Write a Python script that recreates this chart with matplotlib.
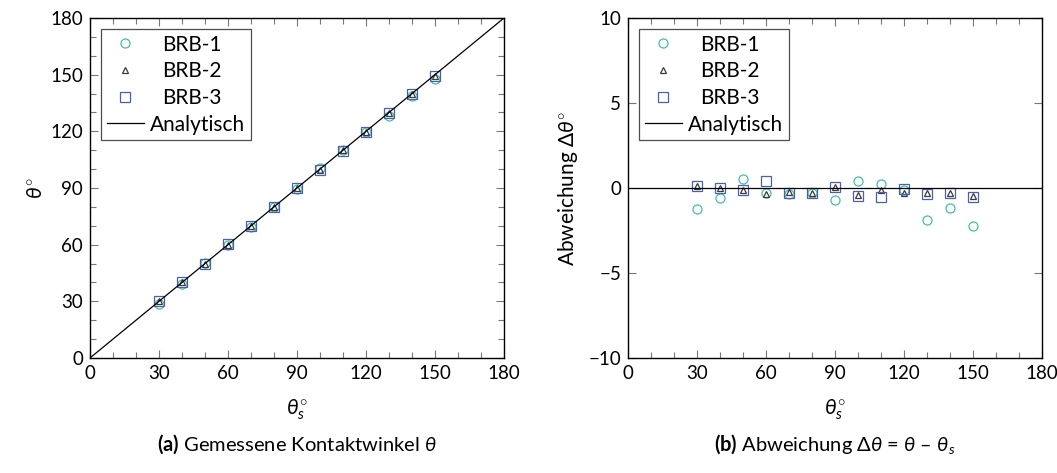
#!/usr/bin/env python

# Kontaktwinkel: gemessen vs. vorgegeben, und Abweichung

import numpy
import matplotlib
matplotlib.use('Agg')
import matplotlib.pyplot as plt
from matplotlib.ticker import MultipleLocator

plt.rcParams['font.family'] = ['Lato', 'DejaVu Sans']
plt.rcParams['mathtext.fontset'] = 'custom'
plt.rcParams['mathtext.rm'] = 'Lato'
plt.rcParams['mathtext.it'] = 'Lato:italic'
plt.rcParams['mathtext.bf'] = 'Lato:bold'

theta_s = [30, 40, 50, 60, 70, 80, 90, 100, 110, 120, 130, 140, 150]

# gemessene Winkel (a)
brb1 = [28.8, 39.4, 50.5, 59.7, 69.6, 79.7, 89.3, 100.4, 110.2, 119.9, 128.1, 138.8, 147.8]
brb2 = [30.1, 40.0, 49.9, 59.7, 69.8, 79.7, 90.1, 99.6, 109.9, 119.7, 129.7, 139.7, 149.5]
brb3 = [30.1, 40.0, 49.9, 60.4, 69.7, 79.7, 90.0, 99.5, 109.5, 119.9, 129.6, 139.7, 149.5]

# Abweichung (b)
d_brb1 = [-1.22, -0.59, 0.51, -0.27, -0.37, -0.30, -0.73, 0.43, 0.24, -0.10, -1.88, -1.18, -2.24]
d_brb2 = [0.12, 0.03, -0.10, -0.33, -0.24, -0.30, 0.06, -0.40, -0.12, -0.30, -0.27, -0.27, -0.47]
d_brb3 = [0.12, 0.00, -0.10, 0.43, -0.27, -0.30, 0.04, -0.47, -0.50, -0.08, -0.37, -0.31, -0.55]

c1 = '#45bfa9'
c2 = '#3a3a3a'
c3 = '#4b5fae'

fig = plt.figure(figsize=(10.57, 4.73), dpi=100)
ax1 = fig.add_axes([0.0851, 0.2431, 0.3917, 0.7188])
ax2 = fig.add_axes([0.5941, 0.2431, 0.3917, 0.7188])

def style(ax, ymaj, ymin):
    ax.set_xlim(0, 180)
    ax.xaxis.set_major_locator(MultipleLocator(30))
    ax.xaxis.set_minor_locator(MultipleLocator(10))
    ax.yaxis.set_major_locator(MultipleLocator(ymaj))
    ax.yaxis.set_minor_locator(MultipleLocator(ymin))
    ax.tick_params(which='both', direction='in', top=True, right=True,
                   color='#777777', labelsize=13.5, pad=5)
    ax.tick_params(which='major', length=6, width=0.8)
    ax.tick_params(which='minor', length=4, width=0.8)
    for sp in ax.spines.values():
        sp.set_linewidth(1.0)
    ax.set_xlabel(r'$\theta_s^{\circ}$', fontsize=15, labelpad=11)

mk = dict(linestyle='none', markerfacecolor='none', markeredgewidth=0.9)

# (a)
line = numpy.array([0, 180])
ax1.plot(theta_s, brb1, marker='o', markersize=6.5, markeredgecolor=c1, label='BRB-1', **mk)
ax1.plot(theta_s, brb2, marker='^', markersize=5, markeredgecolor=c2, label='BRB-2', **mk)
ax1.plot(theta_s, brb3, marker='s', markersize=6.5, markeredgecolor=c3, label='BRB-3', **mk)
ax1.plot(line, line, color='black', linewidth=0.9, label='Analytisch')
ax1.set_ylim(0, 180)
style(ax1, 30, 10)
ax1.set_ylabel(r'$\theta^{\circ}$', fontsize=15, labelpad=3)

# (b)
ax2.plot(theta_s, d_brb1, marker='o', markersize=6.5, markeredgecolor=c1, label='BRB-1', **mk)
ax2.plot(theta_s, d_brb2, marker='^', markersize=5, markeredgecolor=c2, label='BRB-2', **mk)
ax2.plot(theta_s, d_brb3, marker='s', markersize=6.5, markeredgecolor=c3, label='BRB-3', **mk)
ax2.plot([0, 180], [0, 0], color='black', linewidth=0.9, label='Analytisch')
ax2.set_ylim(-10, 10)
style(ax2, 5, 5)
ax2.set_yticks([-10, -5, 0, 5, 10])
ax2.set_yticklabels(['\u221210', '\u22125', '0', '5', '10'])
ax2.set_ylabel(r'Abweichung $\Delta\theta^{\circ}$', fontsize=15, labelpad=6)

for ax in (ax1, ax2):
    leg = ax.legend(loc='upper left', fontsize=15, frameon=True, fancybox=False,
                    edgecolor='#222222', borderpad=0.25, handlelength=1.8,
                    handletextpad=0.3, labelspacing=0.32, borderaxespad=0.55,
                    markerfirst=True)
    leg.get_frame().set_linewidth(0.9)
    for t in leg.get_texts()[:3]:
        t.set_ha('center')
        t.set_position((12, 0))

fig.text(0.281, 0.062, r'$\mathbf{(a)}$ Gemessene Kontaktwinkel $\theta$',
         ha='center', va='center', fontsize=14.5)
fig.text(0.790, 0.062, r'$\mathbf{(b)}$ Abweichung $\Delta\theta$ = $\theta$ ' + '\u2013' + r' $\theta_s$',
         ha='center', va='center', fontsize=14.5)

fig.savefig('out.png', dpi=100)
